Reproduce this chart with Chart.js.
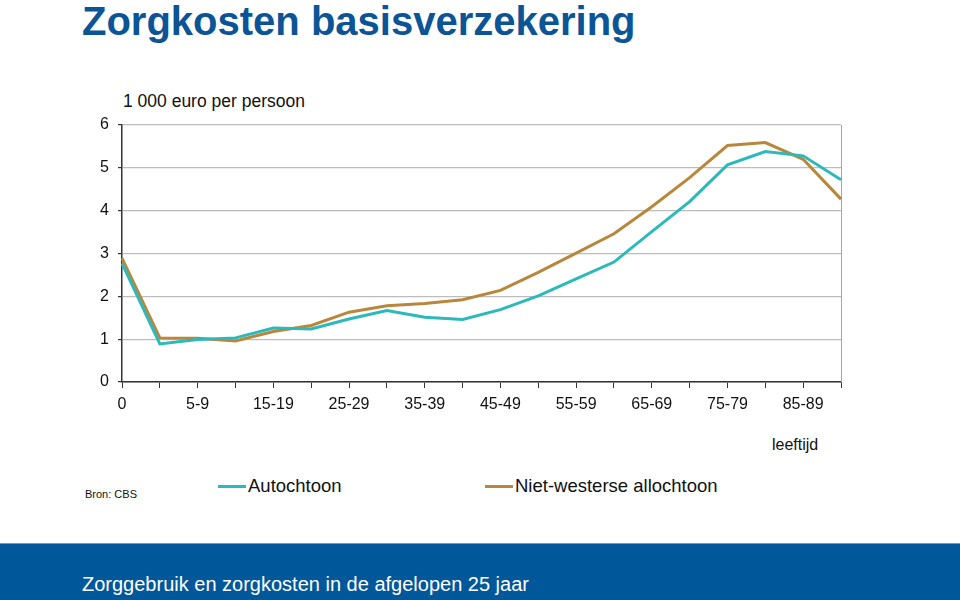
<!DOCTYPE html>
<html>
<head>
<meta charset="utf-8">
<script src="https://cdn.jsdelivr.net/npm/chart.js@4"></script>
<style>
  body { margin: 0; width: 960px; height: 600px; overflow: hidden; background: #fff; font-family: "Liberation Sans", Arial, sans-serif; position: relative; }
  .txt { position: absolute; white-space: nowrap; line-height: 1; }
  #title { left: 82px; top: 1px; font-size: 40px; font-weight: bold; color: #0b5596; }
  #unit { left: 123px; top: 93px; font-size: 17.5px; color: #111; }
  #xlab { left: 772px; top: 437px; font-size: 16px; color: #111; }
  #bron { left: 85px; top: 489px; font-size: 11px; color: #111; }
  .leg { position: absolute; top: 475px; font-size: 18.5px; color: #111; display: flex; align-items: center; }
  .leg span.sw { display: inline-block; width: 28px; height: 3px; margin-right: 2px; }
  #band { position: absolute; left: 0; top: 543px; width: 960px; height: 57px; background: #00579a; border-top: 1px solid #6d9cc4; }
  #foot { left: 82px; top: 574px; font-size: 20px; color: #fff; }
  #wrap { position: absolute; left: 0; top: 0; width: 960px; height: 600px; }
</style>
</head>
<body>
<div id="title" class="txt">Zorgkosten basisverzekering</div>
<div id="unit" class="txt">1 000 euro per persoon</div>
<div id="xlab" class="txt">leeftijd</div>
<div id="bron" class="txt">Bron: CBS</div>
<div id="legend"></div>
<div id="band"></div>
<div id="foot" class="txt">Zorggebruik en zorgkosten in de afgelopen 25 jaar</div>
<div id="wrap"><canvas id="zorgChart"></canvas></div>
<script>
const ageGroups = ['0', '1-4', '5-9', '10-14', '15-19', '20-24', '25-29', '30-34', '35-39', '40-44',
    '45-49', '50-54', '55-59', '60-64', '65-69', '70-74', '75-79', '80-84', '85-89', '90+'];
const autochtoon = [2.77, 0.89, 0.99, 1.03, 1.26, 1.24, 1.47, 1.67, 1.51, 1.46,
    1.69, 2.01, 2.41, 2.80, 3.51, 4.21, 5.07, 5.38, 5.28, 4.72];
const nietWesters = [2.89, 1.03, 1.02, 0.96, 1.18, 1.32, 1.63, 1.78, 1.83, 1.92,
    2.14, 2.56, 3.01, 3.46, 4.09, 4.77, 5.52, 5.59, 5.20, 4.27];
const seriesNames = ['Autochtoon', 'Niet-westerse allochtoon'];
const seriesColors = ['#2cb9bb', '#b8873b'];
const yTicks = [0, 1, 2, 3, 4, 5, 6];

// legend in html, positioned like the original
const legendLeft = [218, 485];
const legendEl = document.getElementById('legend');
seriesNames.forEach(function (name, i) {
    const d = document.createElement('div');
    d.className = 'leg';
    d.style.left = legendLeft[i] + 'px';
    d.innerHTML = '<span class="sw" style="background:' + seriesColors[i] + '"></span>' + name;
    legendEl.appendChild(d);
});

// gray right border of the plot area
const rightBorder = {
    id: 'rightBorder',
    beforeDatasetsDraw(chart) {
        const a = chart.chartArea;
        const c = chart.ctx;
        c.save();
        c.strokeStyle = '#a6a6a6';
        c.lineWidth = 1;
        c.beginPath();
        c.moveTo(Math.round(a.right) + 0.5, a.top);
        c.lineTo(Math.round(a.right) + 0.5, a.bottom);
        c.stroke();
        c.restore();
    }
};

const ctx = document.getElementById('zorgChart').getContext('2d');
const zorgChart = new Chart(ctx, {
    type: 'line',
    data: {
        labels: ageGroups,
        datasets: [{
            label: seriesNames[0],
            data: autochtoon,
            borderColor: seriesColors[0],
            borderWidth: 3,
            pointRadius: 0,
            tension: 0
        }, {
            label: seriesNames[1],
            data: nietWesters,
            borderColor: seriesColors[1],
            borderWidth: 3,
            pointRadius: 0,
            tension: 0
        }]
    },
    options: {
        responsive: true,
        maintainAspectRatio: false,
        animation: false,
        layout: {
            padding: { left: 0, top: 125, right: 119, bottom: 188 }
        },
        plugins: {
            legend: { display: false },
            tooltip: { enabled: false }
        },
        scales: {
            x: {
                offset: false,
                grid: {
                    drawOnChartArea: false,
                    tickLength: 6,
                    tickColor: '#333'
                },
                border: { color: '#333', width: 1.5 },
                ticks: {
                    autoSkip: false,
                    maxRotation: 0,
                    padding: 7,
                    color: '#111',
                    font: { family: 'Liberation Sans', size: 16 },
                    callback: function (val, i) { return i % 2 === 0 ? ageGroups[i] : ''; }
                },
                afterFit: function (scale) { scale.height = 30; }
            },
            y: {
                min: 0,
                max: 6,
                afterBuildTicks: function (scale) {
                    scale.ticks = yTicks.map(function (v) { return { value: v }; });
                },
                grid: {
                    color: '#bdbdbd',
                    lineWidth: 1.2,
                    tickLength: 4,
                    tickColor: '#333'
                },
                border: { color: '#333', width: 1.5 },
                ticks: {
                    padding: 9,
                    color: '#111',
                    font: { family: 'Liberation Sans', size: 16 }
                },
                afterFit: function (scale) { scale.width = 122; }
            }
        }
    },
    plugins: [rightBorder]
});
</script>
</body>
</html>
